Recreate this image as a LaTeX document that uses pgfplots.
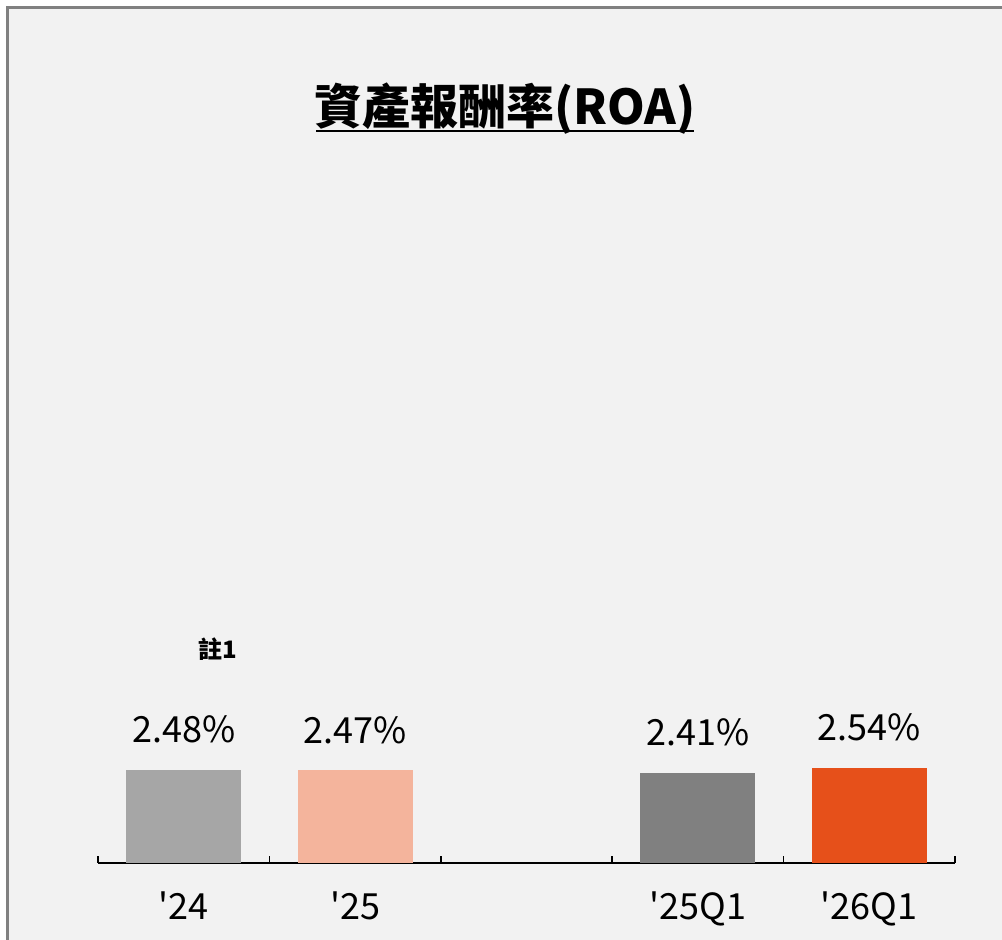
\documentclass[border=0pt]{standalone}
\usepackage{fontspec}
\setmainfont{Noto Sans CJK TC}
\usepackage{pgfplots}
\pgfplotsset{compat=1.18}
\definecolor{bg}{HTML}{F2F2F2}
\definecolor{framegray}{HTML}{808080}
\definecolor{c24}{HTML}{A6A6A6}
\definecolor{c25}{HTML}{F4B49C}
\definecolor{c25q}{HTML}{808080}
\definecolor{c26q}{HTML}{E6501A}
\begin{document}
\begin{tikzpicture}
% 1 px of the reference = 0.5pt
\useasboundingbox (0,0) rectangle (501pt,470pt);
\fill[white] (0,0) rectangle (501pt,470pt);
\fill[bg] (3.75pt,0) rectangle (501pt,466.25pt);
\draw[framegray, line width=1.5pt] (3.75pt,0) -- (3.75pt,466.25pt) -- (501pt,466.25pt);

\node[font=\fontsize{24}{24}\selectfont\bfseries, inner sep=0pt, anchor=base] at (252.5pt,407.5pt) {資產報酬率(ROA)};
\draw[line width=1.3pt] (158pt,404.5pt) -- (347pt,404.5pt);

\coordinate (o) at (49pt,38.5pt);
\begin{axis}[
    at={(o)}, anchor=south west,
    scale only axis, width=428.5pt, height=281.25pt,
    xmin=-0.5, xmax=4.5, ymin=0, ymax=15,
    ybar, bar width=57.5pt, bar shift=0pt,
    axis x line=bottom, axis y line=none,
    x axis line style={-, line width=1pt},
    xtick={0,1,3,4},
    xticklabels={\textquotesingle24,\textquotesingle25,\textquotesingle25Q1,\textquotesingle26Q1},
    major tick length=0pt,
    minor xtick={-0.5,0.5,1.5,2.5,3.5,4.5},
    minor tick length=3.5pt,
    tick align=inside,
    minor tick style={black, line width=0.75pt},
    xticklabel style={font=\fontsize{18}{18}\selectfont, anchor=base, yshift=-28.5pt},
    nodes near coords={\pgfmathprintnumber[fixed,fixed zerofill,precision=2,assume math mode=true]{\pgfplotspointmeta}\%},
    nodes near coords style={font=\fontsize{18}{18}\selectfont, anchor=base, yshift=13.5pt, black},
    clip=false,
]
\addplot[fill=c24, draw=none] coordinates {(0,2.48)};
\addplot[fill=c25, draw=none] coordinates {(1,2.47)};
\addplot[fill=c25q, draw=none] coordinates {(3,2.41)};
\addplot[fill=c26q, draw=none] coordinates {(4,2.54)};
\node[font=\fontsize{12}{12}\selectfont\bfseries] at (axis cs:0.2,5.7) {註1};
\end{axis}
\end{tikzpicture}
\end{document}
